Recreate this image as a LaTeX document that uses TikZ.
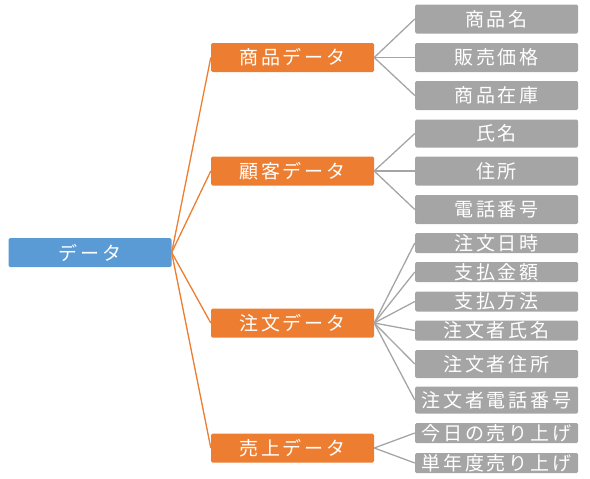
\documentclass[tikz,border=0pt]{standalone}
\usepackage{fontspec}
\setmainfont[LetterSpace=15]{Noto Sans CJK JP}
\definecolor{rootblue}{HTML}{5B9BD5}
\definecolor{grouporange}{HTML}{ED7D31}
\definecolor{itemgray}{HTML}{A5A5A5}
\tikzset{
    box/.style={rounded corners=1.5pt, text=white, inner sep=0pt,
        minimum width=163pt, font=\fontsize{19}{19}\selectfont},
    rootbox/.style={box, fill=rootblue, minimum height=29pt},
    groupbox/.style={box, fill=grouporange, minimum height=29pt},
    itembox/.style={box, fill=itemgray},
    rootline/.style={draw=grouporange, line width=1.3pt},
    itemline/.style={draw=itemgray, line width=1.3pt}
}
\begin{document}
\begin{tikzpicture}[x=1pt, y=-1pt]
    \useasboundingbox (0,0) rectangle (590,479);

    % Root
    \node[rootbox] (data) at (90,252.5) {データ};

    % Groups
    \node[groupbox] (goods) at (292.5,57.5) {商品データ};
    \node[groupbox] (customer) at (292.5,171) {顧客データ};
    \node[groupbox] (order) at (292.5,323) {注文データ};
    \node[groupbox] (sales) at (292.5,448) {売上データ};

    \foreach \g in {goods, customer, order, sales} {
        \draw[rootline] (data.east) -- (\g.west);
    }

    % Items of each group
    \foreach \n/\y/\h/\t in {g1/19/29/商品名, g2/57.5/29/販売価格, g3/95.5/29/商品在庫} {
        \node[itembox, minimum height=\h pt] (\n) at (496.5,\y) {\t};
        \draw[itemline] (goods.east) -- (\n.west);
    }
    \foreach \n/\y/\h/\t in {c1/133.5/28/氏名, c2/171/29/住所, c3/209.5/29/電話番号} {
        \node[itembox, minimum height=\h pt] (\n) at (496.5,\y) {\t};
        \draw[itemline] (customer.east) -- (\n.west);
    }
    \foreach \n/\y/\h/\t in {o1/243/20/注文日時, o2/272/20/支払金額, o3/301.5/20/支払方法,
        o4/330.5/20/注文者氏名, o5/364/28/注文者住所, o6/400/27/注文者電話番号} {
        \node[itembox, minimum height=\h pt] (\n) at (496.5,\y) {\t};
        \draw[itemline] (order.east) -- (\n.west);
    }
    \foreach \n/\y/\h/\t in {s1/433/20/今日の売り上げ, s2/463/20/単年度売り上げ} {
        \node[itembox, minimum height=\h pt] (\n) at (496.5,\y) {\t};
        \draw[itemline] (sales.east) -- (\n.west);
    }
\end{tikzpicture}
\end{document}
